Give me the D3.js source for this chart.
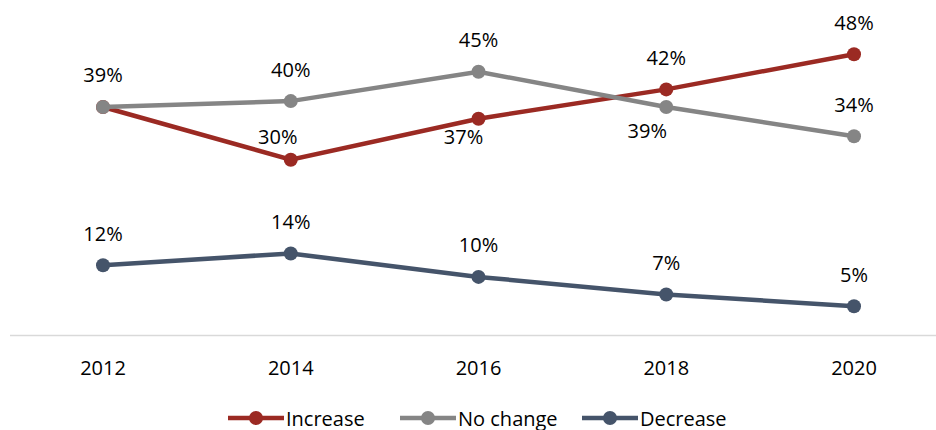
<!DOCTYPE html>
<html>
<head>
<meta charset="utf-8">
<script src="https://cdn.jsdelivr.net/npm/d3@7"></script>
<style>
  body { margin: 0; background: #fff; }
  svg text { font-family: "Open Sans", "Liberation Sans", sans-serif; fill: #000; }
</style>
</head>
<body>
<svg></svg>
<script>
const years = ['2012', '2014', '2016', '2018', '2020'];
const increase = [39, 30, 37, 42, 48];
const noChange = [39, 40, 45, 39, 34];
const decrease = [12, 14, 10, 7, 5];

const width = 936;
const height = 430;

const series = [
  { name: 'Increase', values: increase, color: '#9b2a23' },
  { name: 'No change', values: noChange, color: '#858585' },
  { name: 'Decrease', values: decrease, color: '#45546a' }
];

// label placement tweaks (dx, dy from point), default is centered above
// null = no label (overlaps the other series' label)
const nudge = {
  'Increase-0': null,
  'Increase-1': [-13, -23],
  'Increase-2': [-15, 18],
  'No change-3': [-19, 24]
};

const svg = d3.select('svg')
  .attr('width', width)
  .attr('height', height);

const x = d3.scalePoint()
  .domain(years)
  .range([103, 854]);

const y = d3.scaleLinear()
  .domain([0, 50])
  .range([335.5, 42.5]);

// baseline
svg.append('line')
  .attr('x1', 10).attr('x2', width)
  .attr('y1', y(0)).attr('y2', y(0))
  .attr('stroke', '#d9d9d9')
  .attr('stroke-width', 1.5);

// year labels
svg.append('g').selectAll('text')
  .data(years)
  .join('text')
  .attr('x', (d) => x(d))
  .attr('y', 367)
  .attr('text-anchor', 'middle')
  .attr('dominant-baseline', 'central')
  .style('font-size', '20px')
  .text((d) => d);

const line = d3.line()
  .x((d, i) => x(years[i]))
  .y((d) => y(d));

// gray marker sits on top of red at 2012 in the reference
const order = [series[2], series[0], series[1]];
order.forEach((s) => {
  const g = svg.append('g');
  g.append('path')
    .attr('d', line(s.values))
    .attr('fill', 'none')
    .attr('stroke', s.color)
    .attr('stroke-width', 4.5);
  g.selectAll('circle')
    .data(s.values)
    .join('circle')
    .attr('cx', (d, i) => x(years[i]))
    .attr('cy', (d) => y(d))
    .attr('r', 7)
    .attr('fill', s.color);
});

// data labels
series.forEach((s) => {
  const pts = s.values
    .map((v, i) => ({ v, i, off: nudge[s.name + '-' + i] }))
    .filter((p) => p.off !== null);
  svg.append('g').selectAll('text')
    .data(pts)
    .join('text')
    .attr('x', (p) => x(years[p.i]) + (p.off || [0, -32])[0])
    .attr('y', (p) => y(p.v) + (p.off || [0, -32])[1])
    .attr('text-anchor', 'middle')
    .attr('dominant-baseline', 'central')
    .style('font-size', '20px')
    .text((p) => p.v + '%');
});

// legend
const legendX = [228, 400, 582];
const legend = svg.append('g').selectAll('g')
  .data(series)
  .join('g')
  .attr('transform', (d, i) => `translate(${legendX[i]},418)`);
legend.append('line')
  .attr('x1', 0).attr('x2', 56)
  .attr('stroke', (d) => d.color)
  .attr('stroke-width', 4.5);
legend.append('circle')
  .attr('cx', 28)
  .attr('r', 7)
  .attr('fill', (d) => d.color);
legend.append('text')
  .attr('x', 58)
  .attr('dominant-baseline', 'central')
  .style('font-size', '20px')
  .text((d) => d.name);
</script>
</body>
</html>
